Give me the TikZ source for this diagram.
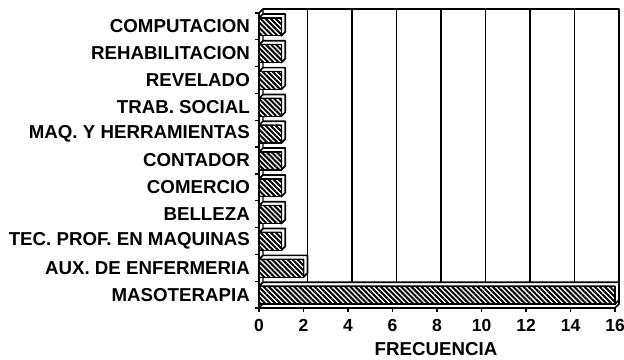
\documentclass[tikz,border=0pt]{standalone}
\usepackage{fontspec}
\setmainfont{Liberation Sans}
\usetikzlibrary{patterns.meta}
\tikzset{
  etiqueta/.style={font=\fontsize{18.7}{21}\selectfont\bfseries, inner sep=0pt},
  cifra/.style={font=\fontsize{17.5}{21}\selectfont\bfseries, inner sep=0pt},
  muro/.style={line width=1.7pt, line join=round},
  rejilla/.style={line width=1.3pt},
  cara/.style={fill=white, draw=black, line width=1.7pt, line join=round},
  frente/.style={draw=black, line width=1.3pt, preaction={fill=white},
    pattern={Lines[angle=-45,distance=3.6pt,line width=2pt]}},
}

\begin{document}
\begin{tikzpicture}[x=1pt, y=-1pt]
    % Parametros
    \pgfmathsetmacro{\xo}{259}
    \pgfmathsetmacro{\ux}{22.25}
    \pgfmathsetmacro{\ytop}{13}
    \pgfmathsetmacro{\ybot}{308}
    \pgfmathsetmacro{\banda}{(\ybot-\ytop)/11}
    \pgfmathsetmacro{\prof}{4}
    \pgfmathsetmacro{\xfin}{\xo+16*\ux}
    \useasboundingbox (0,0) rectangle (624,359);
    % Rejilla del fondo
    \foreach \v in {2,4,...,14}
        \draw[rejilla] ({\xo+\prof+\v*\ux},{\ytop-\prof}) -- ({\xo+\prof+\v*\ux},{\ybot-\prof});
    % Paredes y ejes
    \draw[muro] (\xo,\ybot) -- (\xo,\ytop) -- ({\xo+\prof},{\ytop-\prof}) -- ({\xfin+\prof},{\ytop-\prof}) -- ({\xfin+\prof},{\ybot-\prof}) -- (\xfin,\ybot) -- cycle;
    \draw[rejilla] ({\xo+\prof},{\ytop-\prof}) -- ({\xo+\prof},{\ybot-\prof}) -- (\xo,\ybot);
    \foreach \k in {0,...,11}
        \draw[rejilla] ({\xo-4},{\ytop+\k*\banda}) -- (\xo,{\ytop+\k*\banda});
    \foreach \v in {0,2,...,16} {
        \draw[rejilla] ({\xo+\v*\ux},\ybot) -- ++(0,4);
        \node[cifra] (t\v) at ({\xo+\v*\ux},325) {\v};
    }
    \node[etiqueta] (titx) at (436,349) {FRECUENCIA};
    % Barras
    \foreach \lab/\val [count=\i] in {COMPUTACION/1, REHABILITACION/1, REVELADO/1, TRAB. SOCIAL/1, MAQ. Y HERRAMIENTAS/1, CONTADOR/1, COMERCIO/1, BELLEZA/1, TEC. PROF. EN MAQUINAS/1, AUX. DE ENFERMERIA/2, MASOTERAPIA/16} {
        \pgfmathsetmacro{\yt}{\ytop+(\i-1)*\banda+5}
        \pgfmathsetmacro{\yb}{\ytop+\i*\banda-4}
        \pgfmathsetmacro{\xf}{\xo+\val*\ux}
        \draw[cara] (\xo,\yt) -- ({\xo+\prof},{\yt-\prof}) -- ({\xf+\prof},{\yt-\prof}) -- ({\xf+\prof},{\yb-\prof}) -- (\xf,\yb) -- (\xf,\yt) -- cycle;
        \draw[frente] (\xo,\yt) rectangle (\xf,\yb);
        \node[etiqueta, anchor=east] (cat\i) at (250,{\ytop+(\i-0.5)*\banda}) {\lab};
    }
\end{tikzpicture}
\end{document}
